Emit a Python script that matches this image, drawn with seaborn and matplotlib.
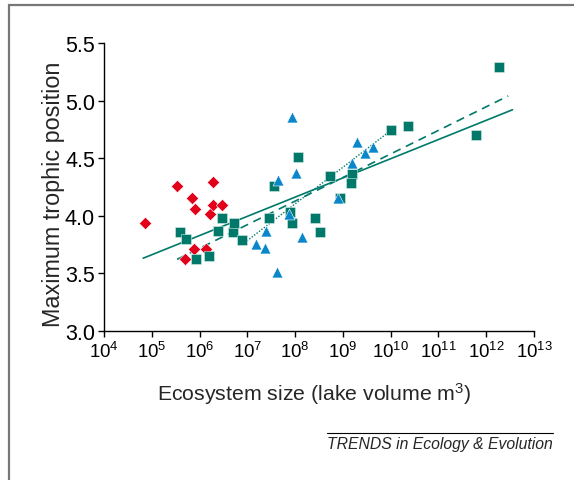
import numpy as np
import pandas as pd
import matplotlib; matplotlib.use("Agg")
import matplotlib.pyplot as plt
import matplotlib.ticker as mticker
from matplotlib.lines import Line2D
from matplotlib.patches import Rectangle
import seaborn as sns

# ── Data (log10 lake volume, max trophic position) ────────────────────────
red_logv = [4.85, 5.53, 5.84, 5.91, 6.28, 6.21, 6.28, 6.46, 5.88, 6.13, 5.69]
red_tp   = [3.94, 4.26, 4.15, 4.06, 4.29, 4.01, 4.09, 4.09, 3.71, 3.71, 3.62]

green_logv = [5.60, 5.72, 5.92, 6.19, 6.38, 6.46, 6.70, 6.73, 6.88, 7.46,
              7.56, 7.89, 7.93, 8.05, 8.42, 8.52, 8.72, 8.95, 9.20, 9.17,
              10.00, 10.37, 11.78, 12.27]
green_tp   = [3.86, 3.80, 3.62, 3.65, 3.87, 3.98, 3.86, 3.94, 3.79, 3.98,
              4.26, 4.03, 3.94, 4.51, 3.98, 3.86, 4.34, 4.15, 4.36, 4.28,
              4.74, 4.78, 4.70, 5.29]

blue_logv = [7.94, 7.64, 8.01, 7.87, 7.39, 7.19, 7.36, 7.62, 8.15, 8.89,
             9.19, 9.29, 9.47, 9.64]
blue_tp   = [4.86, 4.31, 4.37, 4.01, 3.87, 3.75, 3.72, 3.51, 3.81, 4.15,
             4.46, 4.64, 4.54, 4.60]

# regression lines (endpoints)
fit_solid_logv  = [4.82, 12.55]
fit_solid_tp    = [3.63, 4.92]
fit_dashed_logv = [5.53, 12.46]
fit_dashed_tp   = [3.62, 5.04]
fit_dotted_logv = [6.99, 9.94]
fit_dotted_tp   = [3.78, 4.72]

RED, GREEN, BLUE = "#E2001A", "#00796B", "#0A87CA"

sns.set_style("ticks")
plt.rcParams["font.family"] = ["Liberation Sans", "DejaVu Sans"]
plt.rcParams["mathtext.fontset"] = "custom"
plt.rcParams["mathtext.rm"] = "Liberation Sans"
plt.rcParams["mathtext.it"] = "Liberation Sans:italic"

fig = plt.figure(figsize=(5.74, 4.81), dpi=100)
ax = fig.add_axes([0.1812, 0.3104, 0.7491, 0.5981])

# ── Fit lines ─────────────────────────────────────────────────────────────
sns.lineplot(x=10.0 ** np.array(fit_solid_logv), y=fit_solid_tp, ax=ax,
             color=GREEN, lw=1.2, zorder=2)
sns.lineplot(x=10.0 ** np.array(fit_dashed_logv), y=fit_dashed_tp, ax=ax,
             color=GREEN, lw=1.2, linestyle=(0, (5, 3.5)), zorder=2)
sns.lineplot(x=10.0 ** np.array(fit_dotted_logv), y=fit_dotted_tp, ax=ax,
             color=GREEN, lw=1.0, linestyle=(0, (1, 1.2)), zorder=2)

# ── Points ────────────────────────────────────────────────────────────────
sns.scatterplot(x=10.0 ** np.array(red_logv), y=red_tp, ax=ax, marker="D",
                color=RED, s=40, edgecolor="white", linewidth=0.4, zorder=3)
sns.scatterplot(x=10.0 ** np.array(green_logv), y=green_tp, ax=ax, marker="s",
                color=GREEN, s=50, edgecolor="#d8ece8", linewidth=0.4, zorder=3)
sns.scatterplot(x=10.0 ** np.array(blue_logv), y=blue_tp, ax=ax, marker="^",
                color=BLUE, s=62, edgecolor="white", linewidth=0.4, zorder=3)

ax.set_xscale("log")
ax.set_xlim(1e4, 1e13)
ax.set_ylim(3.0, 5.5)
ax.xaxis.set_major_locator(mticker.LogLocator(base=10, numticks=20))
ax.xaxis.set_minor_locator(mticker.NullLocator())
ax.xaxis.set_major_formatter(mticker.FuncFormatter(
    lambda v, p: r"$\mathregular{10^{%d}}$" % round(np.log10(v))))
ax.yaxis.set_major_locator(mticker.MultipleLocator(0.5))
ax.yaxis.set_major_formatter(mticker.FormatStrFormatter("%.1f"))

sns.despine(ax=ax)
for sp in ("left", "bottom"):
    ax.spines[sp].set_linewidth(1.0)
    ax.spines[sp].set_color("black")
ax.tick_params(direction="out", length=4.5, width=1.0, colors="black")
ax.tick_params(axis="x", labelsize=13.4, pad=3)
ax.tick_params(axis="y", labelsize=15.5, pad=2)

ax.set_xlabel(r"Ecosystem size (lake volume m$\mathregular{^3}$)", fontsize=15.3)
ax.set_ylabel("Maximum trophic position", fontsize=16.8)
ax.xaxis.set_label_coords(0.488, -0.172)
ax.yaxis.set_label_coords(-0.090, 0.477)

# ── Frame and credit line ─────────────────────────────────────────────────
fig.patches.append(Rectangle((8.5 / 574, -0.1), 1.2, 1.1 - 5.5 / 481,
                             transform=fig.transFigure, fill=False,
                             edgecolor="#777777", lw=1.6))
fig.add_artist(Line2D([327 / 574, 553 / 574], [1 - 434 / 481] * 2,
                      transform=fig.transFigure, color="black", lw=0.8))
fig.text(553 / 574, 1 - 444 / 481, "TRENDS in Ecology & Evolution",
         ha="right", va="center", fontsize=11.3, style="italic")

fig.savefig("out.png", dpi=100)
